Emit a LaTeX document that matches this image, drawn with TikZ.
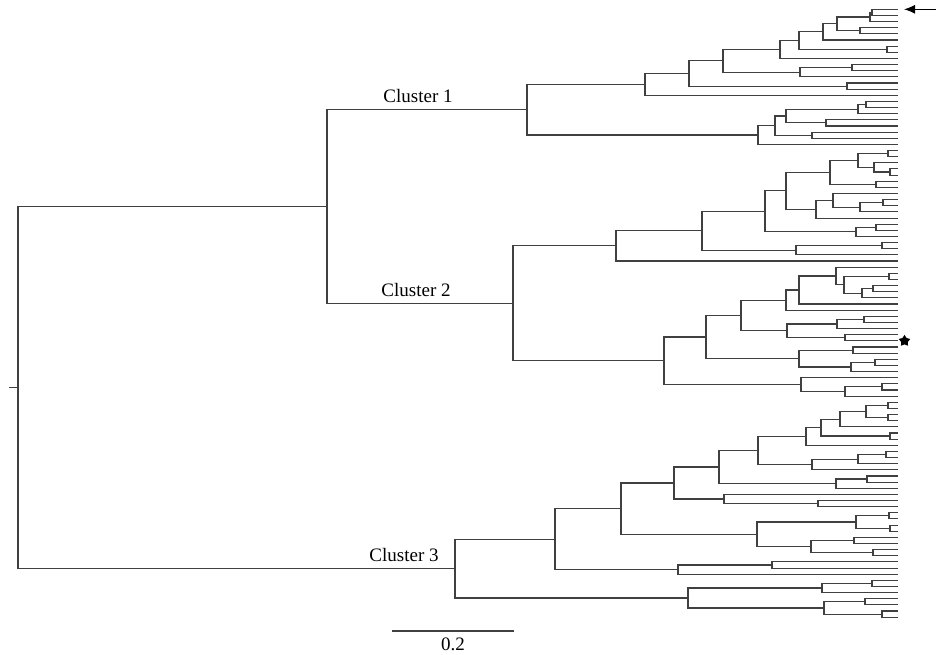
\documentclass[tikz,border=0pt]{standalone}
\usepackage{fontspec}
\setmainfont{Liberation Serif}
\usetikzlibrary{arrows.meta,calc,positioning,shapes.geometric}
\definecolor{TreeClr}{rgb}{0.25,0.25,0.25}

\tikzset{
  branch/.style={line width=1.1pt,color=TreeClr},
  clabel/.style={anchor=base,inner sep=0pt,font=\fontsize{19}{22}\selectfont},
  pointer/.style={line width=1.2pt,-{Latex[length=11pt,width=9pt]}},
  starmark/.style={star,star points=5,star point ratio=1.7,fill=black,
    minimum size=12pt,inner sep=0pt}
}

% clade: name, x of the split, upper child, lower child
\newcommand\clade[4]{%
  \path let \p1=($(#3)!.5!(#4)$) in coordinate (#1) at (#2pt,\y1);
  \draw[branch] (#3) -| (#1) |- (#4);
}

\begin{document}
\begin{tikzpicture}[x=1pt,y=-1pt]
\useasboundingbox (0,0) rectangle (936,654);

\foreach \i in {0,...,99}
  \coordinate (L\i) at (898,{9.3+6.14*\i});

% cluster 1
\clade{a1}{872}{L0}{L1}
\clade{a2}{870}{a1}{L2}
\clade{a3}{860}{L3}{L4}
\clade{a4}{837}{a2}{a3}
\clade{a5}{823}{a4}{L5}
\clade{a6}{887}{L6}{L7}
\clade{a7}{799}{a5}{a6}
\clade{a8}{780}{a7}{L8}
\clade{a9}{852}{L9}{L10}
\clade{a10}{800}{a9}{L11}
\clade{a11}{723}{a8}{a10}
\clade{a12}{847}{L12}{L13}
\clade{a13}{689}{a11}{a12}
\clade{a14}{645}{a13}{L14}
\clade{b1}{866}{L15}{L16}
\clade{b2}{858}{b1}{L17}
\clade{b3}{826}{L18}{L19}
\clade{b4}{786}{b2}{b3}
\clade{b5}{812}{L20}{L21}
\clade{b6}{775}{b4}{b5}
\clade{b7}{758}{b6}{L22}
\clade{C1}{527}{a14}{b7}

% cluster 2
\clade{d1}{888}{L23}{L24}
\clade{d2}{890}{L26}{L27}
\clade{d3}{874}{L25}{d2}
\clade{d4}{858}{d1}{d3}
\clade{d5}{876}{L28}{L29}
\clade{d6}{830}{d4}{d5}
\clade{d7}{883}{L31}{L32}
\clade{d8}{860}{d7}{L33}
\clade{d9}{833}{L30}{d8}
\clade{d10}{816}{d9}{L34}
\clade{d11}{786}{d6}{d10}
\clade{d12}{876}{L35}{L36}
\clade{d13}{856}{d12}{L37}
\clade{d14}{765}{d11}{d13}
\clade{d15}{882}{L38}{L39}
\clade{d16}{796}{d15}{L40}
\clade{d17}{702}{d14}{d16}
\clade{d18}{616}{d17}{L41}
\clade{e1}{889}{L43}{L44}
\clade{e2}{873}{L45}{L46}
\clade{e3}{862}{e2}{L47}
\clade{e4}{844}{e1}{e3}
\clade{e5}{836}{L42}{e4}
\clade{e6}{799}{e5}{L48}
\clade{e7}{786}{e6}{L49}
\clade{e8}{864}{L50}{L51}
\clade{e9}{837}{e8}{L52}
\clade{e10}{845}{L53}{L54}
\clade{e11}{787}{e9}{e10}
\clade{e12}{741}{e7}{e11}
\clade{e13}{853}{L55}{L56}
\clade{e14}{875}{L57}{L58}
\clade{e15}{851}{e14}{L59}
\clade{e16}{799}{e13}{e15}
\clade{e17}{706}{e12}{e16}
\clade{e18}{882}{L61}{L62}
\clade{e19}{845}{e18}{L63}
\clade{e20}{801}{L60}{e19}
\clade{e21}{664}{e17}{e20}
\clade{C2}{513}{d18}{e21}

% cluster 3
\clade{f1}{888}{L64}{L65}
\clade{f2}{888}{L66}{L67}
\clade{f3}{866}{f1}{f2}
\clade{f4}{840}{f3}{L68}
\clade{f5}{890}{L69}{L70}
\clade{f6}{821}{f4}{f5}
\clade{f7}{806}{f6}{L71}
\clade{f8}{886}{L72}{L73}
\clade{f9}{858}{f8}{L74}
\clade{f10}{812}{f9}{L75}
\clade{f11}{758}{f7}{f10}
\clade{f12}{867}{L76}{L77}
\clade{f13}{836}{f12}{L78}
\clade{f14}{719}{f11}{f13}
\clade{f15}{818}{L80}{L81}
\clade{f16}{724}{L79}{f15}
\clade{f17}{674}{f14}{f16}
\clade{f18}{889}{L82}{L83}
\clade{f19}{890}{L84}{L85}
\clade{f20}{856}{f18}{f19}
\clade{f21}{854}{L86}{L87}
\clade{f22}{873}{L88}{L89}
\clade{f23}{811}{f21}{f22}
\clade{f24}{757}{f20}{f23}
\clade{f25}{621}{f17}{f24}
\clade{f26}{772}{L90}{L91}
\clade{f27}{678}{f26}{L92}
\clade{f28}{555}{f25}{f27}
\clade{f29}{872}{L93}{L94}
\clade{f30}{822}{f29}{L95}
\clade{f31}{865}{L96}{L97}
\clade{f32}{882}{L98}{L99}
\clade{f33}{824}{f31}{f32}
\clade{f34}{688}{f30}{f33}
\clade{C3}{455}{f28}{f34}

% root
\clade{r12}{327}{C1}{C2}
\clade{root}{18}{r12}{C3}
\coordinate (stem) at ($(root)+(-9,0)$);
\draw[branch] (root) -- (stem);

\node[clabel] (lab1) at ($(C1)+(-109,-7)$) {Cluster 1};
\node[clabel] (lab2) at ($(C2)+(-97,-7)$) {Cluster 2};
\node[clabel] (lab3) at ($(C3)+(-51,-7)$) {Cluster 3};

\coordinate (atip) at ($(L0)+(6,0)$);
\coordinate (atail) at ($(L0)+(38,0)$);
\draw[pointer] (atail) -- (atip);
\node[starmark,right=2pt of L54] (star) {};

\coordinate (s0) at (392,631);
\coordinate (s1) at (514,631);
\draw[branch] (s0) -- (s1);
\node[clabel] (sval) at ($(s0)!.5!(s1)+(0,19)$) {0.2};

\end{tikzpicture}
\end{document}
